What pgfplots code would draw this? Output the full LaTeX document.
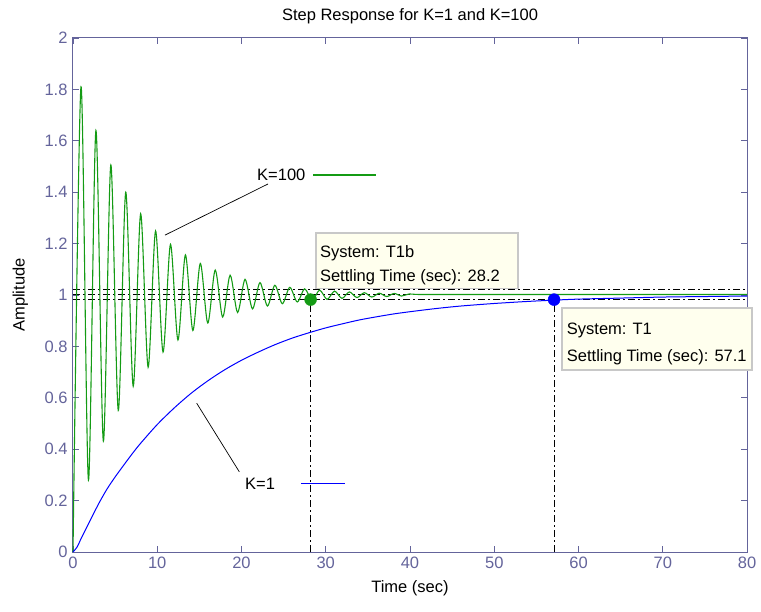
\documentclass[border=0pt]{standalone}
\usepackage{pgfplots}
\pgfplotsset{compat=1.18}
\usepackage{fontspec}
\setmainfont{Liberation Sans}

\definecolor{axslate}{RGB}{100,100,155}
\definecolor{mgreen}{RGB}{20,155,20}
\definecolor{mblue}{RGB}{0,0,255}
\definecolor{tipfill}{RGB}{255,255,238}
\definecolor{tipedge}{RGB}{200,200,200}

\newcommand{\lblfont}{\fontsize{16.5}{18}\selectfont}

\begin{document}
\begin{tikzpicture}[x=1pt,y=1pt]
\useasboundingbox (0,0) rectangle (761,611);
\begin{axis}[
  at={(73pt,59pt)}, anchor=south west,
  scale only axis, width=674pt, height=514pt,
  xmin=0, xmax=80, ymin=0, ymax=2,
  xtick={0,10,20,30,40,50,60,70,80},
  ytick={0,0.2,0.4,0.6,0.8,1,1.2,1.4,1.6,1.8,2},
  tick align=inside, major tick length=6pt,
  axis line style={axslate, line width=1pt},
  tick style={axslate, line width=0.8pt},
  tick label style={font=\lblfont, text=axslate},
  /pgf/number format/assume math mode=true,
  /pgf/number format/fixed,
  yticklabel style={xshift=-2pt},
  xticklabel style={yshift=-1pt},
  clip=false,
  every axis title shift=0pt,
  title={Step Response for K=1 and K=100},
  title style={at={(axis description cs:0.5,1.0428)}, anchor=center, font=\lblfont},
  xlabel={Time (sec)},
  xlabel style={at={(axis description cs:0.5,-0.070)}, anchor=center, font=\lblfont},
  ylabel={Amplitude},
  ylabel style={at={(axis description cs:-0.078,0.5)}, anchor=center, font=\lblfont},
]

% settling bands and settling-time markers
\addplot[black, line width=0.8pt, dash pattern=on 7pt off 3pt on 2pt off 3pt]
  coordinates {(0,1.022) (80,1.022)};
\addplot[black, line width=0.8pt, dash pattern=on 7pt off 3pt on 2pt off 3pt]
  coordinates {(0,1.003) (80,1.003)};
\addplot[black, line width=0.8pt, dash pattern=on 7pt off 3pt on 2pt off 3pt]
  coordinates {(0,0.982) (80,0.982)};
\addplot[black, line width=0.8pt, dash pattern=on 7pt off 3pt on 2pt off 3pt]
  coordinates {(28.2,0) (28.2,0.982)};
\addplot[black, line width=0.8pt, dash pattern=on 7pt off 3pt on 2pt off 3pt]
  coordinates {(57.1,0) (57.1,0.982)};

% K=100 (system T1b)
\addplot[mgreen, line width=1.1pt, smooth] coordinates {
  (0,0) (0.95,1.810) (1.835,0.280) (2.72,1.640) (3.605,0.431)
  (4.49,1.506) (5.375,0.551) (6.26,1.400) (7.145,0.645) (8.03,1.316)
  (8.915,0.719) (9.80,1.249) (10.685,0.778) (11.57,1.197) (12.455,0.825)
  (13.34,1.156) (14.225,0.862) (15.11,1.123) (15.995,0.891) (16.88,1.097)
  (17.765,0.914) (18.65,1.077) (19.535,0.932) (20.42,1.061) (21.305,0.946)
  (22.19,1.048) (23.075,0.957) (23.96,1.038) (24.845,0.966) (25.73,1.030)
  (26.615,0.973) (27.50,1.024) (28.385,0.979) (29.27,1.019) (30.155,0.983)
  (31.04,1.015) (31.925,0.987) (32.81,1.012) (33.695,0.990) (34.58,1.009)
  (35.465,0.992) (36.35,1.007) (37.235,0.994) (38.12,1.006) (39.0,0.996)
  (39.9,1.004) (41,1.002) (45,1.002) (60,1.002) (80,1.002)
};

% K=1 (system T1)
\addplot[mblue, line width=1pt, smooth] coordinates {
  (0,0) (0.5,0.02) (1,0.055) (2,0.12) (3,0.185) (4,0.243) (5,0.292)
  (6,0.337) (7,0.381) (8,0.422) (10,0.496) (12,0.560) (14,0.617)
  (16,0.666) (18,0.709) (20,0.746) (22,0.778) (24,0.807) (26,0.832)
  (28,0.853) (30,0.872) (32,0.888) (34,0.903) (36,0.915) (38,0.926)
  (40,0.935) (43,0.947) (46,0.957) (50,0.967) (54,0.975) (57.1,0.980)
  (60,0.984) (65,0.988) (70,0.992) (75,0.994) (80,0.996)
};

\addplot[only marks, mark=*, mark size=6pt, mgreen] coordinates {(28.2,0.982)};
\addplot[only marks, mark=*, mark size=6pt, mblue] coordinates {(57.1,0.982)};

% curve labels
\draw[black, line width=0.7pt] (axis cs:10.92,1.233) -- (axis cs:23.15,1.432);
\node[anchor=west, font=\lblfont, inner sep=0pt] at (axis cs:21.84,1.467) {K=100};
\draw[mgreen, line width=1.2pt] (axis cs:28.49,1.467) -- (axis cs:35.96,1.467);

\draw[black, line width=0.7pt] (axis cs:14.68,0.579) -- (axis cs:19.74,0.312);
\node[anchor=west, font=\lblfont, inner sep=0pt] at (axis cs:20.42,0.267) {K=1};
\draw[mblue, line width=1.2pt] (axis cs:27.06,0.267) -- (axis cs:32.3,0.267);

% data tips
\draw[tipedge, line width=1.5pt, fill=tipfill] (axis cs:28.84,1.241) rectangle (axis cs:52.82,1.026);
\node[anchor=base west, font=\lblfont, inner sep=0pt] at (axis cs:29.3,1.146) {System: T1b};
\node[anchor=base west, font=\lblfont, inner sep=0pt] at (axis cs:29.3,1.054) {Settling Time (sec): 28.2};

\draw[tipedge, line width=1.5pt, fill=tipfill] (axis cs:58.04,0.949) rectangle (axis cs:80.59,0.708);
\node[anchor=base west, font=\lblfont, inner sep=0pt] at (axis cs:58.6,0.848) {System: T1};
\node[anchor=base west, font=\lblfont, inner sep=0pt] at (axis cs:58.6,0.743) {Settling Time (sec): 57.1};

\end{axis}
\end{tikzpicture}
\end{document}
